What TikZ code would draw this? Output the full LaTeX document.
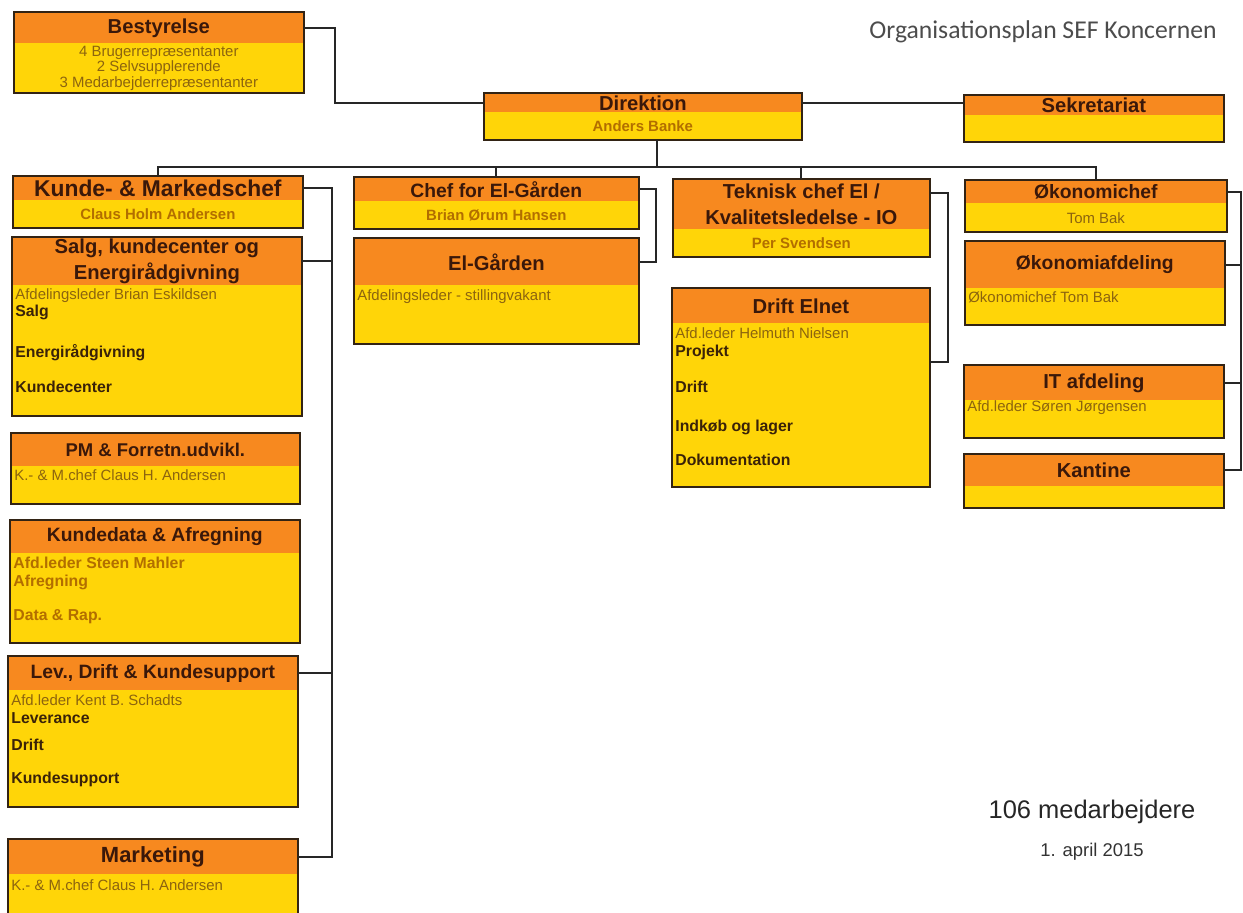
\documentclass[tikz,border=0pt]{standalone}
\usepackage{fontspec}
\setmainfont{Liberation Sans}
\newfontfamily\titlefont{Carlito}
\usetikzlibrary{positioning,calc}
\usepackage{color}

\definecolor{orgorange}{RGB}{247,137,31}
\definecolor{orgyellow}{RGB}{255,213,8}
\definecolor{headtxt}{RGB}{58,24,10}
\definecolor{nametxt}{RGB}{178,110,0}
\definecolor{bodytxt}{RGB}{140,100,15}
\definecolor{itemtxt}{RGB}{58,34,8}
\definecolor{frametxt}{RGB}{50,35,20}

\newdimen\pxu \pxu=0.02cm
% box: [head options]{name}{x}{y}{width}{height}{head height}{title}
\newcommand{\orgbox}[8][]{%
  \node[orgbody, minimum width=#5*\pxu, minimum height=#6*\pxu] (#2) at (#3,#4) {};
  \node[orghead, #1, minimum width=#5*\pxu, minimum height=#7*\pxu] (#2-h) at (#2.north west) {#8};
  \draw[orgframe] (#2.north west) rectangle (#2.south east);
}

\begin{document}
\begin{tikzpicture}[x=0.02cm,y=-0.02cm]
		  \tikzstyle{orgbody}=[anchor=north west,inner sep=0pt,fill=orgyellow]
		  \tikzstyle{orghead}=[anchor=north west,inner sep=0pt,fill=orgorange,align=center,text=headtxt,font=\bfseries\fontsize{11.5}{15}\selectfont]
		  \tikzstyle{orgframe}=[draw=frametxt,line width=1pt]
		  \tikzstyle{orgline}=[draw=black!85,line width=1pt]
		  \tikzstyle{subname}=[inner sep=0pt,text=nametxt,font=\bfseries\fontsize{8.5}{10}\selectfont]
		  \tikzstyle{bodyline}=[anchor=west,inner sep=0pt,text=bodytxt,font=\fontsize{8.5}{10}\selectfont]
		  \tikzstyle{bodyitem}=[anchor=west,inner sep=0pt,text=itemtxt,font=\bfseries\fontsize{9}{10}\selectfont]
		
		  \useasboundingbox (0,0) rectangle (1243,912);
		
		  % top
		  \orgbox{bestyrelse}{14}{12}{289}{80}{31}{Bestyrelse}
		  \orgbox{direktion}{484}{93}{317}{46}{19}{Direktion}
		  \orgbox{sekretariat}{964}{95}{259}{46}{20}{Sekretariat}
		
		  % column 1
		  \orgbox[font=\bfseries\fontsize{13}{15}\selectfont]{kunde}{13}{176}{289}{51}{24}{Kunde- \& Markedschef}
		  \orgbox{salg}{12}{237}{289}{178}{48}{Salg, kundecenter og\\Energirådgivning}
		  \orgbox[font=\bfseries\fontsize{10.5}{13}\selectfont]{pm}{11}{433}{288}{70}{33}{PM \& Forretn.udvikl.}
		  \orgbox[font=\bfseries\fontsize{11}{13}\selectfont]{kundedata}{10}{520}{289}{122}{33}{Kundedata \& Afregning}
		  \orgbox[font=\bfseries\fontsize{11}{13}\selectfont]{lev}{8}{656}{289}{150}{34}{Lev., Drift \& Kundesupport}
		  \orgbox[font=\bfseries\fontsize{12.5}{14}\selectfont]{marketing}{8}{839}{289}{80}{35}{Marketing}
		
		  % column 2
		  \orgbox[font=\bfseries\fontsize{11}{13}\selectfont]{chefel}{354}{177}{284}{51}{24}{Chef for El-Gården}
		  \orgbox{elgarden}{354}{238}{284}{105}{47}{El-Gården}
		
		  % column 3
		  \orgbox{teknisk}{673}{179}{256}{77}{50}{Teknisk chef El /\\Kvalitetsledelse - IO}
		  \orgbox{driftelnet}{672}{288}{257}{198}{35}{Drift Elnet}
		
		  % column 4
		  \orgbox[font=\bfseries\fontsize{11}{13}\selectfont]{okochef}{965}{180}{261}{51}{23}{Økonomichef}
		  \orgbox[font=\bfseries\fontsize{11}{13}\selectfont]{okoafd}{965}{241}{259}{83}{47}{Økonomiafdeling}
		  \orgbox{itafd}{964}{365}{259}{72}{35}{IT afdeling}
		  \orgbox{kantine}{964}{454}{259}{53}{32}{Kantine}
		
		  % texts in the boxes
		  \node[align=center,inner sep=0pt,text=bodytxt,font=\fontsize{8.5}{8.8}\selectfont] (bestyrelse-t) at ($(bestyrelse-h.south)!0.5!(bestyrelse.south)$) {4 Brugerrepræsentanter\\2 Selvsupplerende\\3 Medarbejderrepræsentanter};
		  \node[subname] (direktion-n) at ($(direktion-h.south)!0.5!(direktion.south)$) {Anders Banke};
		  \node[subname] (kunde-n) at ($(kunde-h.south)!0.5!(kunde.south)$) {Claus Holm Andersen};
		  \node[subname] (chefel-n) at ($(chefel-h.south)!0.5!(chefel.south)$) {Brian Ørum Hansen};
		  \node[subname] (teknisk-n) at ($(teknisk-h.south)!0.5!(teknisk.south)$) {Per Svendsen};
		  \node[subname,font=\fontsize{8.5}{10}\selectfont,text=bodytxt] (okochef-n) at ($(okochef-h.south)!0.5!(okochef.south)$) {Tom Bak};
		
		  \node[bodyline] (salg-1) at (15,296) {Afdelingsleder Brian Eskildsen};
		  \node[bodyitem] (salg-2) at (15,312) {Salg};
		  \node[bodyitem] (salg-3) at (15,353) {Energirådgivning};
		  \node[bodyitem] (salg-4) at (15,387) {Kundecenter};
		
		  \node[bodyline] (pm-1) at (14,475) {K.- \& M.chef Claus H. Andersen};
		
		  \node[bodyitem,text=nametxt] (kundedata-1) at (13,563) {Afd.leder Steen Mahler};
		  \node[bodyitem,text=nametxt] (kundedata-2) at (13,582) {Afregning};
		  \node[bodyitem,text=nametxt] (kundedata-3) at (13,617) {Data \& Rap.};
		
		  \node[bodyline] (lev-1) at (11,700) {Afd.leder Kent B. Schadts};
		  \node[bodyitem] (lev-2) at (11,718) {Leverance};
		  \node[bodyitem] (lev-3) at (11,745) {Drift};
		  \node[bodyitem] (lev-4) at (11,779) {Kundesupport};
		
		  \node[bodyline] (marketing-1) at (11,885) {K.- \& M.chef Claus H. Andersen};
		
		  \node[bodyline] (elgarden-1) at (357,297) {Afdelingsleder - stillingvakant};
		
		  \node[bodyline] (driftelnet-1) at (675,333) {Afd.leder Helmuth Nielsen};
		  \node[bodyitem] (driftelnet-2) at (675,352) {Projekt};
		  \node[bodyitem] (driftelnet-3) at (675,387) {Drift};
		  \node[bodyitem] (driftelnet-4) at (675,427) {Indkøb og lager};
		  \node[bodyitem] (driftelnet-5) at (675,460) {Dokumentation};
		
		  \node[bodyline] (okoafd-1) at (968,297) {Økonomichef Tom Bak};
		  \node[bodyline] (itafd-1) at (967,408) {Afd.leder Søren Jørgensen};
		
		  % free texts
		  \node[inner sep=0pt,text=black!70,font=\titlefont\fontsize{14.6}{17}\selectfont] (title) at (1043,32) {Organisationsplan SEF Koncernen};
		  \node[inner sep=0pt,text=black!85,font=\fontsize{14.5}{17}\selectfont] (count) at (1092,812) {106 medarbejdere};
		  \node[inner sep=0pt,text=black!80,font=\fontsize{10.5}{12}\selectfont] (date) at (1092,852) {1. april 2015};
		
		  % connectors
		  \coordinate (bus) at (0,167);
		  \draw[orgline] (bestyrelse-h.east) -- ++(31,0) |- (direktion-h.west);
		  \draw[orgline] (direktion-h.east) -- (direktion-h.east -| sekretariat.west);
		  \draw[orgline] ([xshift=8pt]direktion.south) -- ([xshift=8pt]direktion.south |- bus);
		  \draw[orgline] (kunde.north) -- (kunde.north |- bus) -- (okochef.north |- bus) -- (okochef.north);
		  \draw[orgline] (chefel.north) -- (chefel.north |- bus);
		  \draw[orgline] (teknisk.north) -- (teknisk.north |- bus);
		
		  \draw[orgline] (kunde-h.east) -- ++(29,0) coordinate (kspine) |- (marketing-h.east);
		  \draw[orgline] (salg-h.east) -- (salg-h.east -| kspine);
		  \draw[orgline] ($(pm-h.south east)!0.5!(pm.south east)$) -- ($(pm-h.south east)!0.5!(pm.south east)$ -| kspine);
		  \draw[orgline] (lev-h.east) -- (lev-h.east -| kspine);
		
		  \draw[orgline] (chefel-h.east) -- ++(17,0) |- (elgarden-h.east);
		  \draw[orgline] ([yshift=-8pt]teknisk.north east) -- ++(18,0) |- ([yshift=-42pt]driftelnet.north east);
		
		  \draw[orgline] (okochef-h.east) -- ++(14,0) coordinate (ospine) |- (kantine-h.east);
		  \draw[orgline] (okoafd-h.east) -- (okoafd-h.east -| ospine);
		  \draw[orgline] (itafd-h.east) -- (itafd-h.east -| ospine);
\end{tikzpicture}
\end{document}
